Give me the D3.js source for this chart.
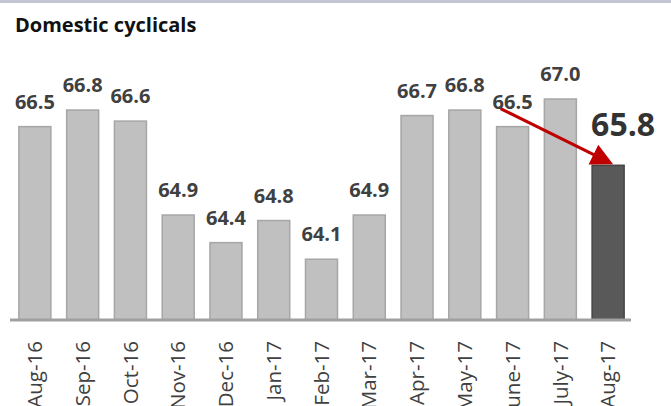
<!DOCTYPE html>
<html>
<head>
<meta charset="utf-8">
<style>
  body { margin: 0; background: #fff; }
  svg { display: block; font-family: "Open Sans", sans-serif; }
</style>
</head>
<body>
<svg width="671" height="406"></svg>
<script src="https://d3js.org/d3.v7.min.js"></script>
<script>

var months = ["Aug-16", "Sep-16", "Oct-16", "Nov-16", "Dec-16", "Jan-17", "Feb-17",
              "Mar-17", "Apr-17", "May-17", "June-17", "July-17", "Aug-17"];
var values = [66.5, 66.8, 66.6, 64.9, 64.4, 64.8, 64.1, 64.9, 66.7, 66.8, 66.5, 67.0, 65.8];
var yDomain = [63, 67];

var svg = d3.select("svg"),
    width = +svg.attr("width"),
    height = +svg.attr("height");

var last = months.length - 1;

var x = d3.scaleBand()
    .domain(months)
    .range([11, 632])
    .paddingInner(0.33)
    .paddingOuter(0.165);

var y = d3.scaleLinear().domain(yDomain).range([320, 99]);

// top rule
svg.append("line")
    .attr("x1", 0).attr("x2", width)
    .attr("y1", 1.5).attr("y2", 1.5)
    .attr("stroke", "#c2c5d3").attr("stroke-width", 3);

svg.append("text")
    .attr("x", 15).attr("y", 32)
    .attr("font-size", 20).attr("font-weight", "bold")
    .attr("fill", "#111")
    .text("Domestic cyclicals");

var data = months.map(function(m, i) { return { m: m, v: values[i], i: i }; });

svg.append("g").selectAll("rect")
    .data(data)
  .enter().append("rect")
    .attr("x", function(d) { return x(d.m); })
    .attr("y", function(d) { return y(d.v); })
    .attr("width", x.bandwidth())
    .attr("height", function(d) { return y(yDomain[0]) - y(d.v); })
    .attr("fill", function(d) { return d.i === last ? "#595959" : "#c0c0c0"; })
    .attr("stroke", function(d) { return d.i === last ? "#444" : "#a6a6a6"; })
    .attr("stroke-width", 1.5);

// baseline
svg.append("line")
    .attr("x1", x.range()[0] - 1).attr("x2", x.range()[1] - 1)
    .attr("y1", y(yDomain[0])).attr("y2", y(yDomain[0]))
    .attr("stroke", "#a0a0a0").attr("stroke-width", 3);

// value labels
svg.append("g").selectAll("text")
    .data(data.filter(function(d) { return d.i !== last; }))
  .enter().append("text")
    .attr("x", function(d) { return x(d.m) + x.bandwidth() / 2; })
    .attr("y", function(d) { return y(d.v) - 18; })
    .attr("text-anchor", "middle")
    .attr("font-size", 20).attr("font-weight", "bold")
    .attr("fill", "#404040")
    .text(function(d) { return d.v.toFixed(1); });

var lastD = data[last];
svg.append("text")
    .attr("x", x(lastD.m) + x.bandwidth() / 2 + 15)
    .attr("y", y(lastD.v) - 29)
    .attr("text-anchor", "middle")
    .attr("font-size", 32).attr("font-weight", "bold")
    .attr("fill", "#333")
    .text(lastD.v.toFixed(1));

// month labels
svg.append("g").selectAll("text")
    .data(data)
  .enter().append("text")
    .attr("transform", function(d) {
      return "translate(" + (x(d.m) + x.bandwidth() / 2) + ",341) rotate(-90)";
    })
    .attr("dy", "0.35em")
    .attr("text-anchor", "end")
    .attr("font-size", 20.5)
    .attr("fill", "#404040")
    .text(function(d) { return d.m; });

// red arrow from June-17 label to Aug-17 bar
svg.append("defs").append("marker")
    .attr("id", "head")
    .attr("viewBox", "0 -12 22 24")
    .attr("refX", 22).attr("refY", 0)
    .attr("markerWidth", 22).attr("markerHeight", 24)
    .attr("markerUnits", "userSpaceOnUse")
    .attr("orient", "auto")
  .append("path")
    .attr("d", "M0,-11L22,0L0,11Z")
    .attr("fill", "#c00000");

var from = data[last - 2];
var x1 = x(from.m) + x.bandwidth() / 2 - 12, y1 = y(from.v) - 18;
var x2 = x(lastD.m) + x.bandwidth() / 2 + 5, y2 = y(lastD.v) - 1;
var ang = Math.atan2(y2 - y1, x2 - x1);

svg.append("line")
    .attr("x1", x1).attr("y1", y1)
    .attr("x2", x2 - 20 * Math.cos(ang)).attr("y2", y2 - 20 * Math.sin(ang))
    .attr("stroke", "#c00000").attr("stroke-width", 3);

svg.append("line")
    .attr("x1", x2 - 23 * Math.cos(ang)).attr("y1", y2 - 23 * Math.sin(ang))
    .attr("x2", x2).attr("y2", y2)
    .attr("stroke", "none")
    .attr("marker-end", "url(#head)");

</script>
</body>
</html>
